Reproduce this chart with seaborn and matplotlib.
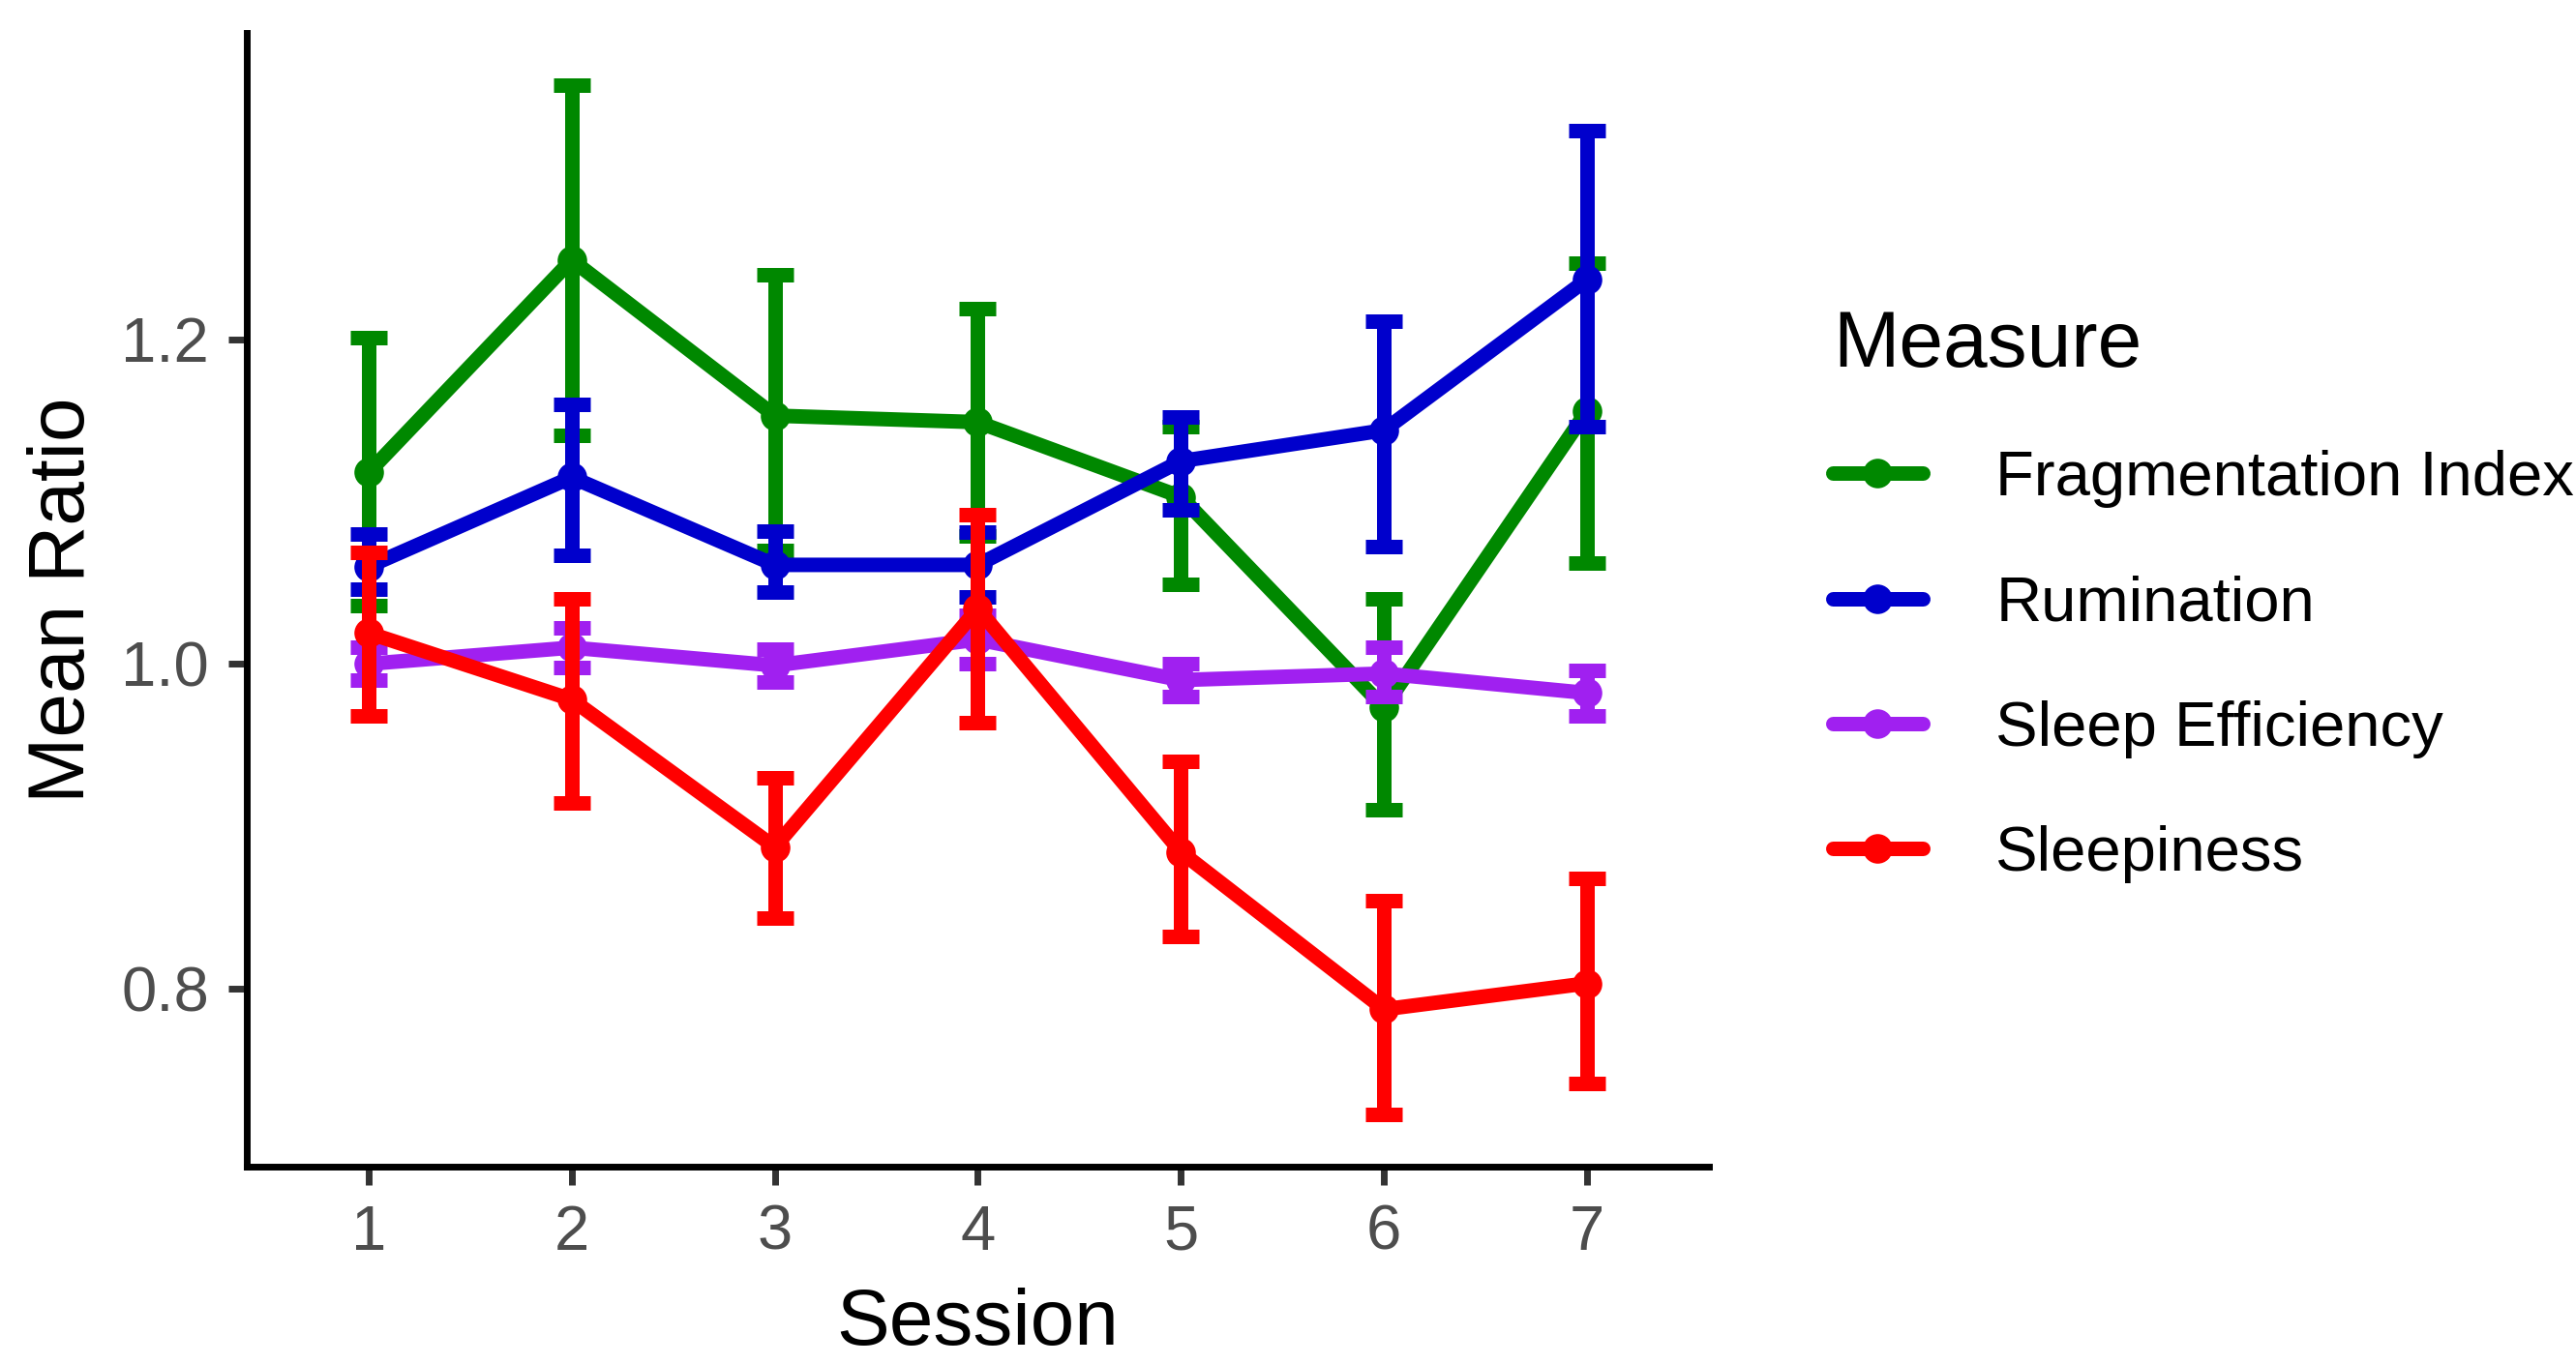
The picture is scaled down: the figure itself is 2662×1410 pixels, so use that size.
import matplotlib
matplotlib.use("Agg")
import matplotlib.pyplot as plt
import seaborn as sns
import pandas as pd

sessions = [1, 2, 3, 4, 5, 6, 7]
measures = ["Fragmentation Index", "Rumination", "Sleep Efficiency", "Sleepiness"]
colors = ["#008800", "#0000CC", "#A020F0", "#FF0000"]

frag_mean = [1.118, 1.249, 1.153, 1.149, 1.103, 0.973, 1.156]
frag_low = [1.036, 1.141, 1.070, 1.079, 1.049, 0.910, 1.062]
frag_high = [1.201, 1.357, 1.240, 1.219, 1.146, 1.040, 1.247]

rum_mean = [1.060, 1.115, 1.061, 1.061, 1.125, 1.144, 1.237]
rum_low = [1.046, 1.067, 1.044, 1.041, 1.095, 1.072, 1.146]
rum_high = [1.080, 1.160, 1.082, 1.081, 1.152, 1.211, 1.329]

eff_mean = [1.000, 1.010, 0.999, 1.015, 0.990, 0.994, 0.982]
eff_low = [0.990, 0.998, 0.989, 1.000, 0.980, 0.980, 0.968]
eff_high = [1.010, 1.022, 1.009, 1.030, 1.000, 1.010, 0.996]

sleepy_mean = [1.019, 0.978, 0.887, 1.034, 0.884, 0.787, 0.803]
sleepy_low = [0.968, 0.914, 0.843, 0.964, 0.832, 0.722, 0.741]
sleepy_high = [1.069, 1.040, 0.930, 1.092, 0.940, 0.854, 0.868]

means = [frag_mean, rum_mean, eff_mean, sleepy_mean]
lows = [frag_low, rum_low, eff_low, sleepy_low]
highs = [frag_high, rum_high, eff_high, sleepy_high]

rows = []
for name, m, lo, hi in zip(measures, means, lows, highs):
    for s, v, l, h in zip(sessions, m, lo, hi):
        rows.append({"Session": s, "Measure": name, "Mean": v, "Low": l, "High": h})
df = pd.DataFrame(rows)

sns.set_theme(style="ticks")
plt.rcParams["font.family"] = ["Liberation Sans", "DejaVu Sans"]
plt.rcParams["text.color"] = "black"

fig = plt.figure(figsize=(26.62, 14.10), dpi=100)
ax = fig.add_axes([0.0958, 0.1447, 0.5676, 0.8312])

# error bars first, then line + points, one measure at a time
for name, col in zip(measures, colors):
    sub = df[df["Measure"] == name]
    ax.errorbar(sub["Session"], sub["Mean"],
                yerr=[sub["Mean"] - sub["Low"], sub["High"] - sub["Mean"]],
                fmt="none", ecolor=col, elinewidth=10.8, capsize=14, capthick=10.8)
    sns.lineplot(data=sub, x="Session", y="Mean", color=col, label=name,
                 marker="o", markersize=22, markeredgewidth=0,
                 linewidth=10.8, errorbar=None, ax=ax)

ax.set_xlim(0.4, 7.6)
ax.set_ylim(0.69, 1.389)
ax.set_xticks(sessions)
ax.set_yticks([0.8, 1.0, 1.2])
ax.set_yticklabels(["0.8", "1.0", "1.2"])

for side in ["top", "right"]:
    ax.spines[side].set_visible(False)
for side in ["left", "bottom"]:
    ax.spines[side].set_linewidth(5)
    ax.spines[side].set_color("black")
ax.tick_params(axis="both", length=14, width=5, color="#333333",
               labelsize=47, labelcolor="#4D4D4D", pad=14)

ax.set_xlabel("Session", fontsize=59, color="black", labelpad=19)
ax.set_ylabel("Mean Ratio", fontsize=59, color="black", labelpad=15)

handles, labels = ax.get_legend_handles_labels()
ax.get_legend().remove()
leg = fig.legend(handles, labels, loc="upper left", bbox_to_anchor=(0.7115, 0.773),
                 frameon=False, title="Measure", fontsize=47, title_fontsize=59,
                 handlelength=1.42, handletextpad=1.16, labelspacing=1.06,
                 borderpad=0, borderaxespad=0, alignment="left")
for t in leg.get_texts():
    t.set_color("black")
leg.get_title().set_color("black")

fig.savefig("out.png", dpi=100)
